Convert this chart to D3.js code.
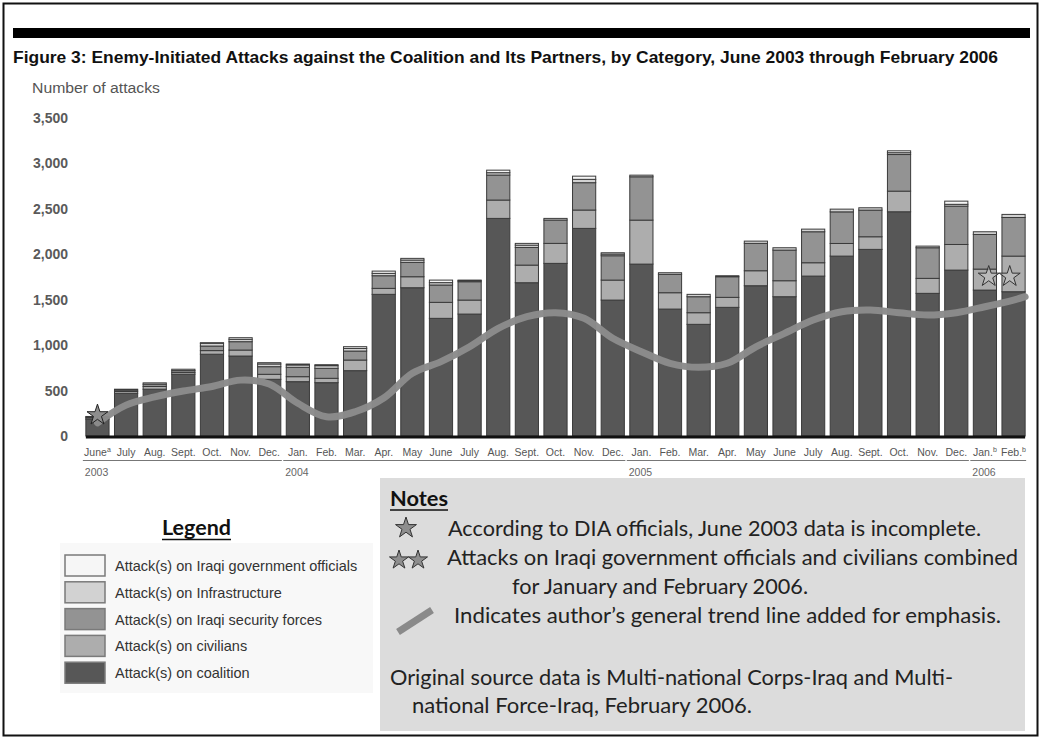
<!DOCTYPE html>
<html><head><meta charset="utf-8">
<script src="https://cdn.jsdelivr.net/npm/d3@7"></script>
<style>body{margin:0;background:#fff} svg{display:block}</style>
</head><body>
<script>
// ---------- data ----------
const months = ["June","July","Aug.","Sept.","Oct.","Nov.","Dec.",
  "Jan.","Feb.","Mar.","Apr.","May","June","July","Aug.","Sept.","Oct.","Nov.","Dec.",
  "Jan.","Feb.","Mar.","Apr.","May","June","July","Aug.","Sept.","Oct.","Nov.","Dec.",
  "Jan.","Feb."];
const monthMarks = ["a","","","","","","", "","","","","","","","","","","","", "","","","","","","","","","","","", "b","b"];
const years = ["2003","2004","2005","2006"];
const yearFirst = [0,7,19,31];
const yearLast = [6,18,30,32];
const coalition =      [185,470,515,680,900,880,624,598,587,719,1559,1632,1295,1342,2395,1687,1900,2285,1496,1892,1397,1229,1416,1654,1533,1760,1980,2054,2468,1570,1826,1606,1588];
const civilians =      [15,20,30,20,40,66,55,55,48,117,66,121,176,154,202,194,220,202,220,484,180,128,110,165,176,147,139,139,227,165,282,231,392];
const securityForces = [10,15,25,20,50,92,84,103,110,99,139,158,191,202,275,194,257,301,268,477,202,176,227,301,337,341,348,293,403,337,422,381,425];
const infrastructure = [5,10,15,15,30,26,30,26,29,29,26,26,26,12,26,26,18,37,18,18,18,26,11,25,26,29,30,26,20,18,20,30,34];
const officials =      [0,0,0,0,7,18,14,10,11,19,25,18,28,6,28,19,0,35,15,0,0,0,0,0,0,0,0,0,21,0,35,0,0];
const trend = [145,340,430,495,545,615,572,360,212,267,418,690,818,982,1185,1313,1357,1295,1075,928,800,756,800,982,1130,1276,1368,1386,1357,1331,1357,1423,1496];
const trendEnd = 1533;
const yTicks = [0,500,1000,1500,2000,2500,3000,3500];
const seriesKeys = ["coalition","civilians","securityForces","infrastructure","officials"];
const legendLabels = ["Attack(s) on Iraqi government officials","Attack(s) on Infrastructure","Attack(s) on Iraqi security forces","Attack(s) on civilians","Attack(s) on coalition"];
const legendKeys = ["officials","infrastructure","securityForces","civilians","coalition"];
const colors = {coalition:"#575757",civilians:"#adadad",securityForces:"#939393",infrastructure:"#d2d2d2",officials:"#f6f6f6"};
const starNoteIdx = [0];
const doubleStarIdx = [31,32];
const starValue = 230, doubleStarValue = 1755;

// ---------- layout ----------
const W = 1041, H = 738;
const svg = d3.select("body").append("svg").attr("width",W).attr("height",H);
svg.append("rect").attr("width",W).attr("height",H).attr("fill","#fff");
svg.append("rect").attr("x",3.5).attr("y",3.5).attr("width",W-7).attr("height",H-6)
  .attr("fill","none").attr("stroke","#111").attr("stroke-width",2);
svg.append("rect").attr("x",13).attr("y",28).attr("width",1017).attr("height",10).attr("fill","#000");

svg.append("text").attr("x",13).attr("y",63).attr("textLength",985).attr("lengthAdjust","spacingAndGlyphs")
  .attr("font-family","'Liberation Sans Narrow','Liberation Sans',Arial,sans-serif").attr("font-weight","bold")
  .attr("font-size",17).attr("fill","#111")
  .text("Figure 3: Enemy-Initiated Attacks against the Coalition and Its Partners, by Category, June 2003 through February 2006");
svg.append("text").attr("x",32).attr("y",93).attr("textLength",128).attr("lengthAdjust","spacingAndGlyphs")
  .attr("font-family","'Liberation Sans Narrow','Liberation Sans',Arial,sans-serif")
  .attr("font-size",14).attr("fill","#555").text("Number of attacks");

const idx = d3.range(months.length);
const x = d3.scaleBand().domain(idx).range([83,1028]).paddingInner(0.19).paddingOuter(0.1);
const y = d3.scaleLinear().domain([0,3500]).range([436,118]);
const cx = i => x(i) + x.bandwidth()/2;

// y tick labels
svg.append("g").selectAll("text").data(yTicks).join("text")
  .attr("x",68).attr("y",d=>y(d)+5).attr("text-anchor","end")
  .attr("font-family","'Liberation Sans',Arial,sans-serif").attr("font-weight","bold")
  .attr("font-size",14).attr("fill","#5a5a5a").text(d=>d3.format(",")(d));

// stacked bars
const rows = idx.map(i=>({i, coalition:coalition[i], civilians:civilians[i], securityForces:securityForces[i], infrastructure:infrastructure[i], officials:officials[i]}));
const stacked = d3.stack().keys(seriesKeys)(rows);
svg.append("g").selectAll("g").data(stacked).join("g").attr("fill",s=>colors[s.key])
  .selectAll("rect").data(s=>s).join("rect")
  .attr("x",d=>x(d.data.i)).attr("width",x.bandwidth())
  .attr("y",d=>y(d[1])).attr("height",d=>Math.max(0,y(d[0])-y(d[1])))
  .attr("stroke","#3a3a3a").attr("stroke-width",1);

// baseline
svg.append("line").attr("x1",x(0)).attr("x2",x(idx.length-1)+x.bandwidth())
  .attr("y1",y(0)+1).attr("y2",y(0)+1).attr("stroke","#111").attr("stroke-width",3);

// trend line
const trendPts = trend.map((v,i)=>[cx(i), y(v)]).concat([[x(idx.length-1)+x.bandwidth(), y(trendEnd)]]);
svg.append("path").datum(trendPts).attr("d",d3.line().curve(d3.curveCatmullRom.alpha(0.5))).attr("fill","none")
  .attr("stroke","#8b8b8b").attr("stroke-width",7).attr("stroke-linecap","round").attr("opacity",0.97);

// stars
const starPath = r => d3.symbol(d3.symbolStar, r*r/0.8908)();
svg.append("g").selectAll("path").data(starNoteIdx).join("path")
  .attr("d",starPath(11)).attr("transform",i=>`translate(${cx(i)},${y(starValue)})`)
  .attr("fill","#8e8e8e").attr("stroke","#222").attr("stroke-width",1);
const pairMid = d3.mean(doubleStarIdx, cx);
svg.append("g").selectAll("path").data(doubleStarIdx).join("path")
  .attr("d",starPath(11)).attr("transform",(i,k)=>`translate(${pairMid + (k-0.5)*21},${y(doubleStarValue)})`)
  .attr("fill","#c4c4c4").attr("fill-opacity",0.55).attr("stroke","#333").attr("stroke-width",1);

// month labels
const ml = svg.append("g").attr("font-family","'Liberation Sans',Arial,sans-serif").attr("fill","#555");
ml.selectAll("text").data(idx).join("text")
  .attr("x",cx).attr("y",456).attr("text-anchor","middle").attr("font-size",10.5)
  .each(function(i){
    const t=d3.select(this);
    t.append("tspan").text(months[i]);
    if(monthMarks[i]) t.append("tspan").attr("dy",-4).attr("font-size",7).text(monthMarks[i]);
  });
// year groups
const yg = svg.append("g");
yg.selectAll("line").data(years).join("line")
  .attr("x1",(d,k)=>x(yearFirst[k])-3).attr("x2",(d,k)=>x(yearLast[k])+x.bandwidth()+1)
  .attr("y1",460.5).attr("y2",460.5).attr("stroke","#777").attr("stroke-width",1);
yg.selectAll("text").data(years).join("text")
  .attr("x",(d,k)=>x(yearFirst[k])-1).attr("y",476)
  .attr("font-family","'Liberation Sans',Arial,sans-serif").attr("font-size",10.5).attr("fill","#666").text(d=>d);

// legend
const lg = svg.append("g");
lg.append("rect").attr("x",60).attr("y",543).attr("width",313).attr("height",150).attr("fill","#f8f8f8");
lg.append("text").attr("x",162).attr("y",535).attr("textLength",69).attr("lengthAdjust","spacingAndGlyphs")
  .attr("font-family","Lato,'Open Sans',sans-serif").attr("font-weight","bold").attr("font-size",20)
  .attr("fill","#111").text("Legend");
lg.append("line").attr("x1",162).attr("x2",231).attr("y1",539.5).attr("y2",539.5).attr("stroke","#111").attr("stroke-width",1.5);
const li = lg.selectAll("g.li").data(legendKeys).join("g").attr("class","li")
  .attr("transform",(d,k)=>`translate(65,${555+k*26.8})`);
li.append("rect").attr("width",40).attr("height",21).attr("fill",d=>colors[d]).attr("stroke","#7a7a7a").attr("stroke-width",1.5);
li.append("text").attr("x",50).attr("y",16).attr("font-family","'Liberation Sans',Arial,sans-serif")
  .attr("font-size",14.5).attr("fill","#333").text((d,k)=>legendLabels[k]);

// notes box
const nb = svg.append("g");
nb.append("rect").attr("x",380).attr("y",478).attr("width",645).attr("height",253).attr("fill","#dcdcdc");
const nf = "Lato,'Open Sans',sans-serif";
nb.append("text").attr("x",390).attr("y",506).attr("textLength",58).attr("lengthAdjust","spacingAndGlyphs")
  .attr("font-family",nf).attr("font-weight","bold").attr("font-size",20).attr("fill","#111").text("Notes");
nb.append("line").attr("x1",390).attr("x2",448).attr("y1",510).attr("y2",510).attr("stroke","#111").attr("stroke-width",1.5);
const noteLines = [
  {x:448,y:536,w:533,t:"According to DIA officials, June 2003 data is incomplete."},
  {x:447,y:565,w:571,t:"Attacks on Iraqi government officials and civilians combined"},
  {x:512,y:594,w:296,t:"for January and February 2006."},
  {x:454,y:623,w:547,t:"Indicates author\u2019s general trend line added for emphasis."},
  {x:390,y:685,w:563,t:"Original source data is Multi-national Corps-Iraq and Multi-"},
  {x:412,y:713,w:340,t:"national Force-Iraq, February 2006."}
];
nb.selectAll("text.nl").data(noteLines).join("text").attr("class","nl")
  .attr("x",d=>d.x).attr("y",d=>d.y).attr("textLength",d=>d.w).attr("lengthAdjust","spacingAndGlyphs")
  .attr("font-family",nf).attr("font-size",20.5).attr("fill","#222").text(d=>d.t);
nb.append("path").attr("d",starPath(11)).attr("transform","translate(406,528)")
  .attr("fill","#8e8e8e").attr("stroke","#333").attr("stroke-width",1);
[399,418].forEach(px=>nb.append("path").attr("d",starPath(10)).attr("transform",`translate(${px},560)`)
  .attr("fill","#8e8e8e").attr("stroke","#333").attr("stroke-width",1));
nb.append("line").attr("x1",398).attr("y1",632).attr("x2",432).attr("y2",610)
  .attr("stroke","#8a8a8a").attr("stroke-width",7);
</script>
</body></html>
